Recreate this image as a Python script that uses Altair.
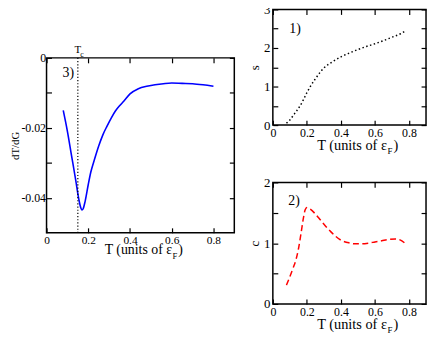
import altair as alt
import pandas as pd

FONT = "Liberation Serif"

# ---- Panel 3) dT/dG vs T ----
t3 = [0.08, 0.10, 0.12, 0.14, 0.155, 0.165, 0.17, 0.175, 0.185, 0.20, 0.212, 0.23,
      0.25, 0.27, 0.29, 0.31, 0.33, 0.35, 0.37, 0.40, 0.44, 0.48, 0.52, 0.56,
      0.60, 0.65, 0.70, 0.75, 0.80]
dtdg = [-0.0150, -0.0210, -0.0280, -0.0350, -0.0405, -0.0430, -0.0435, -0.0432, -0.0410,
        -0.0362, -0.0327, -0.0290, -0.0252, -0.0220, -0.0195, -0.0172, -0.0152, -0.0137,
        -0.0124, -0.0103, -0.0088, -0.0081, -0.0077, -0.0074, -0.0072, -0.0073, -0.0074,
        -0.0077, -0.0081]

# ---- Panel 1) s vs T ----
t1 = [0.08, 0.10, 0.12, 0.14, 0.16, 0.18, 0.20, 0.22, 0.25, 0.28, 0.30, 0.35, 0.40,
      0.45, 0.50, 0.55, 0.60, 0.65, 0.70, 0.75, 0.78]
s_vals = [0.05, 0.13, 0.25, 0.37, 0.50, 0.66, 0.84, 1.00, 1.20, 1.38, 1.48, 1.64, 1.77,
          1.87, 1.96, 2.04, 2.11, 2.19, 2.28, 2.37, 2.45]

# ---- Panel 2) c vs T ----
t2 = [0.08, 0.10, 0.12, 0.135, 0.15, 0.165, 0.18, 0.19, 0.20, 0.22, 0.25, 0.28, 0.31,
      0.34, 0.37, 0.40, 0.44, 0.48, 0.52, 0.56, 0.60, 0.64, 0.68, 0.72, 0.75, 0.78]
c_vals = [0.31, 0.45, 0.60, 0.72, 0.90, 1.15, 1.42, 1.55, 1.585, 1.56, 1.48, 1.38, 1.28,
          1.19, 1.11, 1.05, 1.01, 0.99, 0.99, 1.00, 1.02, 1.04, 1.06, 1.07, 1.05, 0.99]

x_ticks = [0, 0.2, 0.4, 0.6, 0.8]
x_domain = [0, 0.9]
y3_ticks = [0, -0.01, -0.02, -0.03, -0.04]
y3_domain = [-0.05, 0]
y1_ticks = [0, 0.5, 1, 1.5, 2, 2.5, 3]
y1_domain = [0, 3]
y2_ticks = [0, 0.5, 1, 1.5, 2]
y2_domain = [0, 2]
tc_value = [0.15]

panel_labels = ["3)", "1)", "2)"]
panel_label_T = [0.077, 0.097, 0.091]
panel_label_y = [-0.0056, 2.39, 1.63]

x_title_main = "T (units of \u03b5"
x_title_sub = "F"
x_title_end = ")"

xlabel_expr = "datum.value == 0 ? '0' : format(datum.value, '.1f')"
y3label_expr = ("round(datum.value*100) % 2 == 0 ? (datum.value == 0 ? '0' : "
                "'-0.0' + abs(round(datum.value*100))) : ''")
yintlabel_expr = "datum.value % 1 == 0 ? format(datum.value, 'd') : ''"


def px2x(w, px):
    return x_domain[0] + (x_domain[1] - x_domain[0]) * px / w


def px2y(h, dom, px_below_top):
    return dom[1] - (dom[1] - dom[0]) * px_below_top / h


def tick_axis(**kw):
    base = dict(domain=False, grid=False, ticks=True, tickSize=5, offset=-5,
                tickColor="black", tickWidth=1.2, labelFont=FONT,
                labelColor="black", labelOverlap=False, labelFlush=False,
                labelBound=False)
    base.update(kw)
    return alt.Axis(**base)


def text_layer(xsc, ysc, yfield, T, yv, txt, size, align, dx=0):
    d = pd.DataFrame({"T": [T], yfield: [yv], "lab": [txt]})
    return alt.Chart(d).mark_text(font=FONT, fontSize=size, align=align, dx=dx,
                                  baseline="alphabetic", color="black").encode(
        x=alt.X("T:Q", scale=xsc, axis=None),
        y=alt.Y(f"{yfield}:Q", scale=ysc, axis=None), text="lab:N")


def panel(df, yfield, ydomain, yticks, ylabel_expr, w, h, line_kw, ytitle,
          ytitle_size, ytitle_pad, ylab_pad, xlab_pad, xlab_size, ylab_size,
          xt_size, xt_right, xt_base, xt_sub, label_idx, tc=False):
    xsc = alt.Scale(domain=x_domain, nice=False, zero=False)
    ysc = alt.Scale(domain=ydomain, nice=False, zero=False)
    main = alt.Chart(df).mark_line(interpolate="monotone", **line_kw).encode(
        x=alt.X("T:Q", scale=xsc,
                axis=tick_axis(orient="bottom", values=x_ticks, labelExpr=xlabel_expr,
                               labelPadding=xlab_pad, labelFontSize=xlab_size, title=None)),
        y=alt.Y(f"{yfield}:Q", scale=ysc,
                axis=tick_axis(orient="left", values=yticks, labelExpr=ylabel_expr,
                               labelPadding=ylab_pad, labelFontSize=ylab_size,
                               title=ytitle, titleFont=FONT, titleFontSize=ytitle_size,
                               titleFontWeight="normal", titleColor="black",
                               titlePadding=ytitle_pad)),
    )
    ghost = alt.Chart(df).mark_line(opacity=0).encode(
        x=alt.X("T:Q", scale=xsc,
                axis=tick_axis(orient="top", values=x_ticks, labels=False, title=None)),
        y=alt.Y(f"{yfield}:Q", scale=ysc,
                axis=tick_axis(orient="right", values=yticks, labels=False, title=None)),
    )
    layers = [main, ghost]
    layers.append(text_layer(xsc, ysc, yfield, panel_label_T[label_idx],
                             panel_label_y[label_idx], panel_labels[label_idx], 14, "left"))
    xr = w / 2 + xt_right
    layers.append(text_layer(xsc, ysc, yfield, px2x(w, xr), px2y(h, ydomain, h + xt_base),
                             x_title_main, xt_size, "right"))
    layers.append(text_layer(xsc, ysc, yfield, px2x(w, xr + 0.5),
                             px2y(h, ydomain, h + xt_base + xt_sub),
                             x_title_sub, xt_size * 0.62, "left"))
    layers.append(text_layer(xsc, ysc, yfield, px2x(w, xr + 0.5 + xt_size * 0.42),
                             px2y(h, ydomain, h + xt_base), x_title_end, xt_size, "left"))
    if tc:
        tdf = pd.DataFrame({"T": tc_value})
        layers.append(alt.Chart(tdf).mark_rule(color="black", strokeDash=[1.2, 2],
                                               strokeWidth=1.2).encode(
            x=alt.X("T:Q", scale=xsc, axis=None)))
        layers.append(text_layer(xsc, ysc, yfield, tc_value[0], px2y(h, ydomain, -5),
                                 "T", 11, "center"))
        layers.append(text_layer(xsc, ysc, yfield, tc_value[0], px2y(h, ydomain, -0.5),
                                 "c", 8, "left", dx=2.5))
    return alt.layer(*layers).resolve_axis(x="independent", y="independent").properties(
        width=w, height=h)


df3 = pd.DataFrame({"T": t3, "v": dtdg})
df1 = pd.DataFrame({"T": t1, "s": s_vals})
df2 = pd.DataFrame({"T": t2, "c": c_vals})

left = panel(df3, "v", y3_domain, y3_ticks, y3label_expr, 190, 177,
             dict(color="#0000ff", strokeWidth=1.6), "dT/dG", 11, 0.5, 1, 1.5, 11.5, 12,
             14, 32, 21.5, 5, 0, tc=True)

# invisible spacer that pushes the left panel down
spacer = alt.Chart(pd.DataFrame({"a": [0]})).mark_point(opacity=0).encode(
    x=alt.value(0), y=alt.value(0)).properties(
    width=190, height=34, view=alt.ViewBackground(strokeOpacity=0))

top = panel(df1, "s", y1_domain, y1_ticks, yintlabel_expr, 155, 117,
            dict(color="black", strokeWidth=1.5, strokeDash=[1.5, 2.5]), "s", 13, 2.5, 3, 2.5,
            12, 13, 14.5, 38, 25.5, 4, 1)

bottom = panel(df2, "c", y2_domain, y2_ticks, yintlabel_expr, 155, 123,
               dict(color="#ff0000", strokeWidth=1.5, strokeDash=[6, 3.5]), "c", 13, 2.5, 3, 2.5,
               12, 13, 14.5, 38, 25.5, 4, 2)

chart = alt.hconcat(alt.vconcat(spacer, left, spacing=0),
                    alt.vconcat(top, bottom, spacing=18),
                    spacing=11).properties(
    padding={"left": 0, "top": -7.5, "right": 0, "bottom": 0}
).configure_view(stroke="black", strokeWidth=1.5)

chart.save("out.html", embed_options={"renderer": "svg", "actions": False})
